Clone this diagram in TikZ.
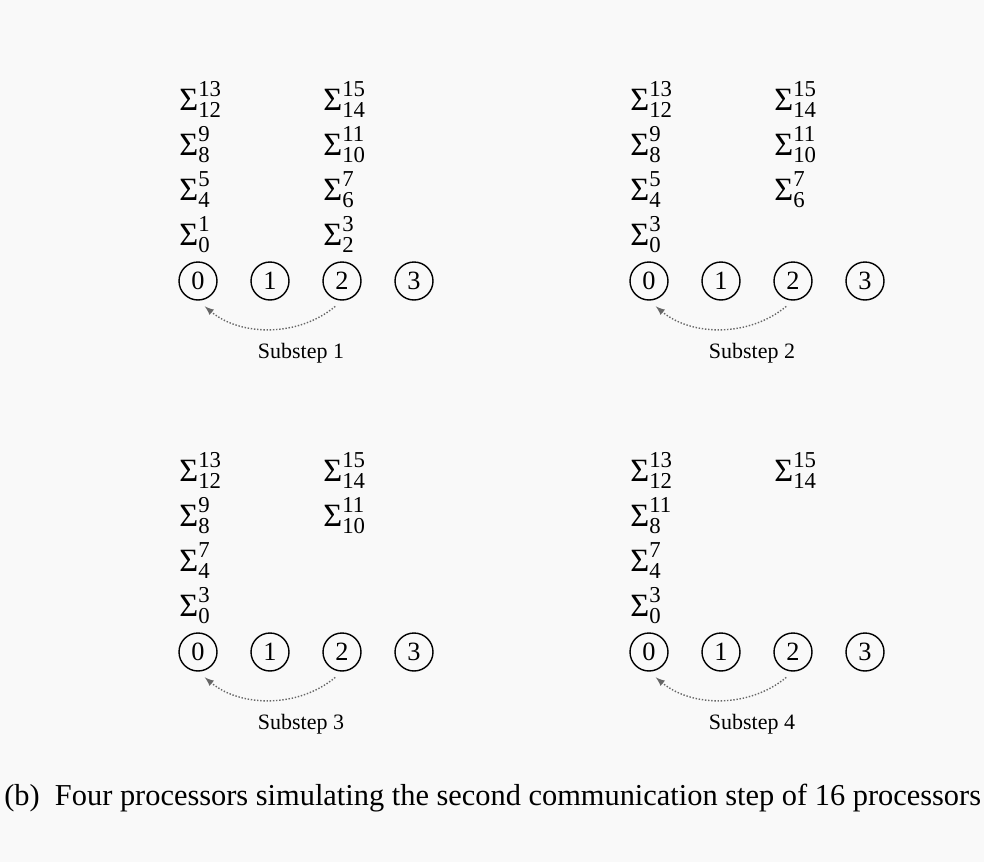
\documentclass[tikz,border=0pt]{standalone}
\usepackage{amsmath}
\usepackage{fontspec}
\setmainfont{Liberation Serif}
\usetikzlibrary{arrows,positioning}
\tikzset{>=latex}
\definecolor{pagebg}{RGB}{249,249,249}
\tikzset{
  proc/.style={circle, draw=black, thick, minimum size=0.76cm, inner sep=0pt,
    font=\fontsize{15}{18}\selectfont},
  partsum/.style={inner sep=0pt, anchor=base west, font=\fontsize{18.5}{21}\selectfont},
  comm/.style={->, gray!80!black, densely dotted, thick, shorten <=5pt, shorten >=5pt},
  lbl/.style={inner sep=0pt, font=\fontsize{12.5}{15}\selectfont}
}
\newcommand{\psum}[2]{$\text{Σ}^{\text{#2}}_{\text{#1}}$}

\begin{document}
\begin{tikzpicture}[x=0.02cm, y=-0.02cm]
  \fill[pagebg] (0,0) rectangle (984,862);
  \useasboundingbox (0,0) rectangle (984,862);
  % four substeps: panel / shift x / shift y / partial sums col/row/low/high
  \foreach \p/\dx/\dy/\sums in {
      1/0/0/{0/0/0/1, 0/1/4/5, 0/2/8/9, 0/3/12/13, 2/0/2/3, 2/1/6/7, 2/2/10/11, 2/3/14/15},
      2/451/0/{0/0/0/3, 0/1/4/5, 0/2/8/9, 0/3/12/13, 2/1/6/7, 2/2/10/11, 2/3/14/15},
      3/0/371/{0/0/0/3, 0/1/4/7, 0/2/8/9, 0/3/12/13, 2/2/10/11, 2/3/14/15},
      4/451/371/{0/0/0/3, 0/1/4/7, 0/2/8/11, 0/3/12/13, 2/3/14/15}} {
    % processors
    \foreach \i in {0,...,3}
      \node[proc] (c\p-\i) at (\dx+198+\i*72, \dy+281) {\i};
    % partial sums held by the processors
    \foreach \col/\row/\lo/\hi in \sums
      \node[partsum] (s\p-\col-\row) at (\dx+179+\col*72, \dy+245-\row*45)
        {\psum{\lo}{\hi}};
    \draw[comm] (c\p-2.south) to[bend left=40] (c\p-0.south);
    \node[lbl] (t\p) at (\dx+301, \dy+353) {Substep \p};
  }
  \node[lbl, anchor=base west, font=\fontsize{17.3}{20}\selectfont] (cap) at (4,805)
    {(b)\ \ Four processors simulating the second communication step of 16 processors};
\end{tikzpicture}
\end{document}
